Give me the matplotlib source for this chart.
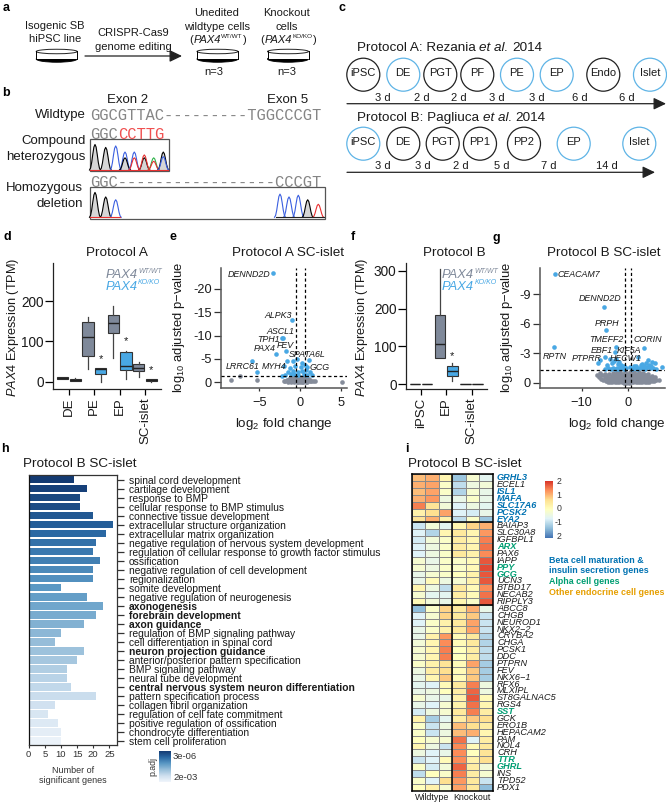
import numpy as np
import matplotlib
matplotlib.use("Agg")
import matplotlib.pyplot as plt
from matplotlib.patches import Circle, Ellipse, Rectangle, Polygon
from matplotlib.colors import LinearSegmentedColormap, Normalize
from matplotlib.cm import ScalarMappable
from matplotlib.transforms import ScaledTranslation

plt.rcParams['font.family'] = ['Liberation Sans', 'DejaVu Sans']
plt.rcParams['mathtext.fontset'] = 'custom'
plt.rcParams['mathtext.rm'] = 'Liberation Sans'
plt.rcParams['mathtext.it'] = 'Liberation Sans:italic'
plt.rcParams['mathtext.bf'] = 'Liberation Sans:bold'
plt.rcParams['axes.unicode_minus'] = False

W, H = 667, 805
INK = '#1a1a1a'
WT_C = '#7f899a'
KO_C = '#49a8e4'
CIRC_BLUE = '#5fb4e6'
GRAY_PT = '#858c9a'

# ---------- panel d / f box data (TPM) ----------
d_cats = ['DE', 'PE', 'EP', 'SC-islet']
d_wt_lo = [6, 32, 58, 12]
d_wt_q1 = [7, 65, 122, 27]
d_wt_med = [9, 110, 146, 33]
d_wt_q3 = [11, 148, 166, 44]
d_wt_hi = [12, 162, 189, 48]
d_ko_lo = [2, 0, 7, 0.5]
d_ko_q1 = [3, 19, 28, 1]
d_ko_med = [5, 32, 38, 4]
d_ko_q3 = [8, 35, 74, 7]
d_ko_hi = [10, 35, 76, 8]
d_star_y = [56, 100, 29]

f_cats = ['iPSC', 'EP', 'SC-islet']
f_wt_lo = [0, 68, 0]
f_wt_q1 = [0, 68, 0]
f_wt_med = [0, 106, 0]
f_wt_q3 = [0, 183, 0]
f_wt_hi = [0, 304, 0]
f_ko_lo = [0, 7, 0]
f_ko_q1 = [0, 21, 0]
f_ko_med = [0, 35, 0]
f_ko_q3 = [0, 47, 0]
f_ko_hi = [0, 57, 0]
f_star_y = [74]

# ---------- volcano e ----------
e_blue_x = [-3.3, -1.0, -2.25, -2.05, -1.7, -2.95, -5.9, -5.3, -1.6, -0.9, -0.4, 0.2, 1.15, 0.6, -1.2, -2.0,
            -0.6, 0.1, 0.9, -1.5, -0.9, -0.3, 0.3, 0.8, 1.2, -2.2, -1.8, -1.1, -0.7, 0.5, 0.9, 1.5, -0.2]
e_blue_y = [23.4, 13.4, 9.4, 9.4, 6.7, 6.0, 4.6, 2.3, 4.6, 4.6, 5.0, 4.1, 4.8, 3.7, 3.0, 3.4,
            3.5, 3.2, 3.3, 2.2, 2.4, 2.1, 2.4, 2.6, 2.1, 1.4, 1.5, 1.7, 1.8, 1.7, 1.6, 1.5, 1.5]
e_gray_x = [-8.5, -7.4, -5.3, 5.2, -2.0, -1.8, -1.6, -1.5, -1.3, -1.2, -1.1, -1.0, -0.9, -0.8, -0.7, -0.6, -0.5,
            -0.4, -0.3, -0.2, -0.1, 0.0, 0.1, 0.2, 0.3, 0.4, 0.5, 0.6, 0.7, 0.8, 0.9, 1.0, 1.2, 1.4, 1.6, 1.9,
            -1.4, -1.0, -0.7, -0.4, -0.1, 0.2, 0.5, 0.8, 1.1, -1.1, -0.8, -0.5, -0.2, 0.1, 0.4, 0.7, -0.6, -0.3, 0.0, 0.3]
e_gray_y = [0.5, 1.3, 0.4, 0.1, 0.3, 0.2, 0.4, 0.1, 0.3, 0.6, 0.1, 0.4, 0.2, 0.7, 0.1, 0.3, 0.5,
            0.1, 0.3, 0.1, 0.4, 0.1, 0.3, 0.1, 0.4, 0.1, 0.2, 0.5, 0.1, 0.3, 0.1, 0.4, 0.2, 0.3, 0.2, 0.3,
            0.8, 0.9, 1.0, 0.8, 1.1, 0.8, 0.9, 0.8, 0.7, 1.2, 0.6, 1.2, 0.7, 1.0, 1.1, 1.1, 1.2, 0.6, 1.2, 0.7]

# ---------- volcano g ----------
g_blue_x = [-15.8, -5.1, -4.6, -16.0, -2.5, 3.6, -2.75, 2.3, -4.9, -6.0, -6.5, 4.5, 5.2, 5.9, 7.4,
            -5.0, -4.2, -3.6, -3.2, -2.8, -2.4, -2.0, -1.6, -1.2, -0.8, -0.4, 1.0, 1.5, 2.0, 2.5, 3.0, 3.4, 3.8, 4.2, 4.8, 5.4, 6.2,
            -3.4, -3.0, -2.6, -2.2, -1.8, -1.4, 1.8, 2.8, 3.2, 3.6, 4.0, 4.6, 5.0, -3.8, -4.4, -0.9, 0.6, 1.3]
g_blue_y = [11.1, 7.7, 5.4, 3.66, 3.6, 3.56, 3.1, 2.65, 2.65, 2.3, 2.0, 2.3, 2.1, 2.0, 1.55,
            1.4, 1.45, 1.4, 1.5, 1.4, 1.5, 1.4, 1.6, 1.45, 1.4, 1.5, 1.4, 1.45, 1.4, 1.5, 1.45, 1.5, 1.4, 1.55, 1.45, 1.5, 1.4,
            2.0, 2.2, 2.4, 1.9, 2.1, 1.8, 1.7, 1.8, 1.9, 1.7, 2.0, 1.8, 1.7, 2.4, 1.8, 1.7, 1.6, 1.7]
g_gray_x = [-6.7, -6.3, -5.8, -5.3, -4.8, -4.3, -3.8, -3.3, -2.8, -2.3, -1.8, -1.3, -0.8, -0.3, 0.2, 0.7, 1.2, 1.7, 2.2, 2.7, 3.2, 3.7, 4.2, 4.7, 5.2, 5.7, 6.2, 6.7,
            -6.0, -5.5, -5.0, -4.5, -4.0, -3.5, -3.0, -2.5, -2.0, -1.5, -1.0, -0.5, 0.0, 0.5, 1.0, 1.5, 2.0, 2.5, 3.0, 3.5, 4.0, 4.5, 5.0, 5.5, 6.0,
            -5.0, -4.4, -3.8, -3.2, -2.6, -2.0, -1.4, -0.8, -0.2, 0.4, 1.0, 1.6, 2.2, 2.8, 3.4, 4.0, 4.6, 5.2,
            -4.0, -3.5, -3.0, -2.5, -2.0, -1.5, -1.0, -0.5, 0.0, 0.5, 1.0, 1.5, 2.0, 2.5, 3.0, 3.5, 4.0, 4.5,
            -3.2, -2.6, -2.0, -1.4, -0.8, -0.2, 0.4, 1.0, 1.6, 2.2, 2.8, 3.4, -2.4, -1.6, -0.6, 0.6, 1.4, 2.4]
g_gray_y = [0.75, 0.55, 0.35, 0.25, 0.15, 0.1, 0.05, 0.05, 0.05, 0.05, 0.05, 0.05, 0.0, 0.0, 0.0, 0.05, 0.05, 0.05, 0.05, 0.05, 0.05, 0.1, 0.1, 0.1, 0.15, 0.2, 0.25, 0.3,
            1.0, 0.8, 0.6, 0.45, 0.3, 0.25, 0.25, 0.25, 0.25, 0.25, 0.25, 0.25, 0.25, 0.25, 0.25, 0.25, 0.25, 0.25, 0.25, 0.3, 0.3, 0.35, 0.4, 0.5, 0.6,
            0.85, 0.65, 0.5, 0.45, 0.45, 0.45, 0.45, 0.45, 0.45, 0.45, 0.45, 0.45, 0.45, 0.45, 0.5, 0.55, 0.6, 0.7,
            0.85, 0.7, 0.65, 0.65, 0.65, 0.65, 0.65, 0.65, 0.65, 0.65, 0.65, 0.65, 0.65, 0.65, 0.7, 0.75, 0.8, 0.9,
            1.0, 0.9, 0.85, 0.85, 0.85, 0.85, 0.85, 0.85, 0.85, 0.85, 0.9, 0.95, 1.1, 1.05, 1.1, 1.05, 1.1, 1.1]

# ---------- panel h ----------
go_terms = ['spinal cord development', 'cartilage development', 'response to BMP',
            'cellular response to BMP stimulus', 'connective tissue development',
            'extracellular structure organization', 'extracellular matrix organization',
            'negative regulation of nervous system development',
            'regulation of cellular response to growth factor stimulus', 'ossification',
            'negative regulation of cell development', 'regionalization', 'somite development',
            'negative regulation of neurogenesis', 'axonogenesis', 'forebrain development',
            'axon guidance', 'regulation of BMP signaling pathway', 'cell differentiation in spinal cord',
            'neuron projection guidance', 'anterior/posterior pattern specification',
            'BMP signaling pathway', 'neural tube development',
            'central nervous system neuron differentiation', 'pattern specification process',
            'collagen fibril organization', 'regulation of cell fate commitment',
            'positive regulation of ossification', 'chondrocyte differentiation', 'stem cell proliferation']
go_counts = [14, 18, 16, 16, 20, 26, 24, 21, 20, 22, 20, 20, 10, 18, 23, 21, 17, 10, 8, 17, 15, 12, 12, 13, 21, 8, 6, 9, 10, 10]
go_shade = [1.00, 0.97, 0.94, 0.92, 0.87, 0.84, 0.80, 0.76, 0.73, 0.70, 0.66, 0.63, 0.60, 0.57, 0.53, 0.50, 0.47,
            0.44, 0.41, 0.38, 0.35, 0.31, 0.28, 0.25, 0.22, 0.19, 0.15, 0.12, 0.08, 0.04]
go_bold = ['axonogenesis', 'forebrain development', 'axon guidance', 'neuron projection guidance',
           'central nervous system neuron differentiation']

# ---------- panel i ----------
genes = ['GRHL3', 'ECEL1', 'ISL1', 'MAFA', 'SLC17A6', 'PCSK2', 'EYA2', 'BAIAP3', 'SLC30A8', 'IGFBPL1', 'ARX', 'PAX6',
         'IAPP', 'PPY', 'GCG', 'UCN3', 'BTBD17', 'NECAB2', 'RIPPLY3', 'ABCC8', 'CHGB', 'NEUROD1', 'NKX2\u22122', 'CRYBA2',
         'CHGA', 'PCSK1', 'DDC', 'PTPRN', 'FEV', 'NKX6\u22121', 'RFX6', 'MLXIPL', 'ST8GALNAC5', 'RGS4', 'SST', 'GCK',
         'ERO1B', 'HEPACAM2', 'PAM', 'NOL4', 'CRH', 'TTR', 'GHRL', 'INS', 'TPD52', 'PDX1']
beta_genes = ['GRHL3', 'ISL1', 'MAFA', 'SLC17A6', 'PCSK2', 'EYA2']
alpha_genes = ['ARX', 'PPY', 'GCG', 'SST', 'TTR', 'GHRL']
heat = [[1.0, 1.1, 0.2, -1.3, -0.2, -0.6], [1.1, 1.2, -0.1, -1.0, -0.4, -0.3], [1.0, 1.2, -0.1, -1.1, -0.2, -0.5],
        [1.1, 1.3, -0.4, -0.5, -0.1, -0.5], [1.5, 0.6, -0.3, -0.7, -0.4, -0.6], [0.3, 0.7, 1.2, -0.7, -0.8, -0.5],
        [0.6, 1.1, 0.3, -1.0, -0.1, -1.3], [-0.9, -0.3, -0.6, 0.2, 0.8, 1.1], [-0.7, -1.1, 0.2, 0.5, 0.2, 1.3],
        [-0.8, -0.3, -0.1, 0.4, 0.2, 1.5], [-0.7, -0.4, -0.1, 0.4, 0.2, 1.6], [-0.7, -0.4, -0.1, 0.5, 0.3, 1.4],
        [-0.2, -0.5, -0.1, -0.1, 0.1, 1.8], [-0.2, -0.4, -0.1, -0.1, 0.1, 1.9], [-0.5, -0.2, -0.1, 0.0, 0.3, 1.8],
        [-0.5, 0.1, -0.4, -0.2, 0.3, 1.8], [0.2, -0.4, -1.0, 0.5, 0.1, 1.4], [-0.2, -0.6, -0.6, 0.4, 0.1, 1.6],
        [0.1, -0.3, -0.5, 0.2, -0.1, 1.8], [-1.4, -0.1, 0.8, 0.5, 1.1, -0.5], [-0.7, -0.2, 0.8, 0.5, 0.9, -0.9],
        [-0.7, -0.1, 0.3, 0.5, 1.2, -0.9], [-0.5, -0.1, 0.3, 0.5, 1.2, -0.9], [-0.5, 0.3, 1.3, 0.1, 0.5, -1.1],
        [-0.3, 0.2, 1.4, 0.1, 0.5, -1.1], [-0.2, 0.2, 1.5, 0.0, 0.4, -1.0], [-0.2, 0.2, 1.5, 0.0, 0.4, -1.0],
        [-0.1, 0.3, 0.6, 0.1, 1.2, -1.2], [-0.4, 0.4, 0.7, 0.1, 0.9, -1.2], [-0.5, 0.2, 0.9, 0.1, 0.9, -1.2],
        [-0.6, -0.7, 0.1, 0.5, 1.5, -0.4], [-0.5, -0.4, 0.0, 0.4, 1.7, -0.4], [-0.2, -0.5, -0.5, 0.3, 1.8, 0.1],
        [-0.5, -0.7, -0.2, 0.3, 1.6, 0.2], [-0.8, -0.4, -0.2, 0.5, 1.5, 0.4], [0.3, -1.2, -0.6, 0.4, 0.9, 0.7],
        [-0.1, -0.9, -0.4, 1.0, 0.7, 0.4], [-0.1, -0.9, -0.4, 1.0, 1.1, 0.2], [0.0, -0.2, -0.2, 1.6, -0.7, 0.4],
        [0.2, -0.4, -0.9, 1.4, 0.1, 0.5], [-0.4, -0.7, -0.5, 1.4, 0.0, 0.6], [-0.9, -0.7, 0.1, 1.4, 0.3, 0.7],
        [-0.1, -0.8, -0.3, 1.7, 0.4, -0.3], [-1.0, 0.0, -0.1, 1.5, 0.4, -0.2], [-0.1, -0.7, 0.7, 1.3, 0.5, -0.9],
        [0.0, 0.3, -0.2, 1.2, 0.5, -1.4]]

# ---------- schematic content ----------
proto_a_steps = ['iPSC', 'DE', 'PGT', 'PF', 'PE', 'EP', 'Endo', 'Islet']
proto_a_blue = ['DE', 'PE', 'EP', 'Islet']
proto_a_days = ['3 d', '2 d', '2 d', '3 d', '3 d', '6 d', '6 d']
proto_b_steps = ['iPSC', 'DE', 'PGT', 'PP1', 'PP2', 'EP', 'Islet']
proto_b_blue = ['iPSC', 'EP', 'Islet']
proto_b_days = ['3 d', '3 d', '2 d', '5 d', '7 d', '14 d']

# chromatogram peaks: (column in px, height fraction, colour)
compound_peaks = [(95, .88, 'k'), (105.7, .78, 'k'), (115.7, .83, '#3a5fe0'), (125, .62, '#3a5fe0'), (125, .42, 'k'),
                  (134.3, .62, '#3a5fe0'), (134.3, .42, '#e83030'), (144.3, .42, 'k'), (144.3, .52, '#e83030'),
                  (153.7, .42, '#2fb24a'), (153.7, .3, '#e83030'), (163.3, .62, 'k'), (163.3, .46, '#3a5fe0')]
homoz_peaks = [(95, .88, 'k'), (105.7, .72, 'k'), (115.7, .62, '#3a5fe0'), (280, .82, '#3a5fe0'), (289, .72, '#3a5fe0'),
               (298.3, .78, '#3a5fe0'), (307.7, .62, 'k'), (318.3, .46, '#e83030')]
PEAK_PROFILE = [0, .08, .3, .62, .9, 1, .9, .62, .3, .08, 0]

fig = plt.figure(figsize=(W / 100, H / 100), dpi=100, facecolor='white')


def mk_ax(l, t, r, b):
    return fig.add_axes([l / W, 1 - b / H, (r - l) / W, (b - t) / H])


ov = fig.add_axes([0, 0, 1, 1], zorder=10)
ov.set_xlim(0, W)
ov.set_ylim(H, 0)
ov.axis('off')
ov.patch.set_alpha(0)
renderer = fig.canvas.get_renderer()


def T(x, y, s, size=8, ha='center', va='center', color=INK, **kw):
    return ov.text(x, y, s, fontsize=size, ha=ha, va=va, color=color, **kw)


def width_px(t):
    return t.get_window_extent(renderer).width


def pax_label(x, y, sup, size=8, supsize=4.6, color=INK, pre='', post=''):
    cx = x
    if pre:
        t = T(cx, y, pre, size=size, ha='left', color=color)
        cx += width_px(t) + 0.5
    t = T(cx, y, 'PAX4', size=size, ha='left', color=color, style='italic')
    cx += width_px(t) + 0.3
    t = T(cx, y - size * 0.42, sup, size=supsize, ha='left', color=color, style='italic' if not post else 'normal')
    cx += width_px(t) + 0.3
    if post:
        T(cx, y, post, size=size, ha='left', color=color)


# panel letters
for (lx, ly, ch) in [(6, 8, 'a'), (6, 93, 'b'), (342, 8, 'c'), (7, 237, 'd'), (173, 237, 'e'), (353, 237, 'f'),
                     (496, 238, 'g'), (5, 449, 'h'), (407, 449, 'i')]:
    T(lx, ly, ch, size=9, weight='bold', color='black')


def dish(cx, y=51.5):
    w = 41
    ov.add_patch(Ellipse((cx, y + 7.5), w, 6.5, fc='black', ec='black', lw=0.6))
    ov.add_patch(Rectangle((cx - w / 2, y), w, 7.5, fc='white', ec='none'))
    ov.plot([cx - w / 2, cx - w / 2], [y, y + 7.5], color='black', lw=0.7)
    ov.plot([cx + w / 2, cx + w / 2], [y, y + 7.5], color='black', lw=0.7)
    ov.add_patch(Ellipse((cx, y), w, 4.5, fc='white', ec='#222222', lw=0.7))


ARROW = dict(arrowstyle='-|>,head_width=0.36,head_length=0.75', color='#222222', lw=0.9, shrinkA=0, shrinkB=0)

# ---- a ----
T(55, 26, 'Isogenic SB')
T(55, 39.3, 'hiPSC line')
dish(56.7)
T(133, 33.3, 'CRISPR-Cas9')
T(133, 47.3, 'genome editing')
ov.annotate('', xy=(182, 56), xytext=(85, 56), arrowprops=ARROW)
T(217, 12.7, 'Unedited')
T(217, 26.7, 'wildtype cells')
pax_label(189, 40, 'WT/WT', pre='(', post=')', size=8)
dish(217.5)
T(214, 72.3, 'n=3')
T(286.7, 12.7, 'Knockout')
T(286.7, 26.7, 'cells')
pax_label(260.5, 40, 'KO/KO', pre='(', post=')', size=8)
dish(288)
T(287, 71.7, 'n=3')

# ---- b ----
T(128, 100, 'Exon 2', size=9.5)
T(287.7, 100, 'Exon 5', size=9.5)
T(85.7, 115, 'Wildtype', size=9.5, ha='right')
T(85.7, 140.7, 'Compound', size=9.5, ha='right')
T(85.7, 156.7, 'heterozygous', size=9.5, ha='right')
T(83.3, 188.3, 'Homozygous', size=9.5, ha='right')
T(83.3, 204, 'deletion', size=9.5, ha='right')
SEQ = dict(family='Liberation Mono', size=11.2, ha='left')
SEQ_C = '#858585'
T(90, 115.5, 'GGCGTTAC---------TGGCCCGT', color=SEQ_C, **SEQ)
T(90, 134.5, 'GGC', color=SEQ_C, **SEQ)
T(118.2, 134.5, 'CCTTG', color='#f05050', **SEQ)
T(90, 182.5, 'GGC-----------------CCCGT', color=SEQ_C, **SEQ)
ov.add_patch(Rectangle((89.5, 139.5), 79.5, 32, fc='white', ec='#555555', lw=0.9))
ov.add_patch(Rectangle((89.5, 187), 235.5, 32.3, fc='white', ec='#555555', lw=0.9))


def chrom(peaks, base, top, halfw=5.5):
    n = len(PEAK_PROFILE)
    for (px, hh, c) in peaks:
        xs = [px - halfw + 2 * halfw * i / (n - 1) for i in range(n)]
        ys = [base - hh * (base - top) * p for p in PEAK_PROFILE]
        if c == 'k':
            ov.add_patch(Polygon(list(zip(xs, ys)), closed=True, fc='#d6d6d6', ec='none', zorder=2))
        ov.plot(xs, ys, color=c, lw=0.8, zorder=3)


chrom(compound_peaks, 170, 141)
ov.plot([90, 168], [170, 170], color='#e83030', lw=0.8, zorder=3)
chrom(homoz_peaks, 217.3, 189)
ov.plot([90, 120], [217.3, 217.3], color='#e83030', lw=0.8, zorder=3)
ov.plot([276, 324], [217.3, 217.3], color='#222222', lw=0.8, zorder=3)

# ---- c ----
T(357.3, 48.3, 'Protocol A: Rezania', size=9.7, ha='left')
T(479.3, 48.3, 'et al.', size=9.7, ha='left', style='italic')
T(512, 48.3, '2014', size=9.7, ha='left')
T(357.3, 118.3, 'Protocol B: Pagliuca', size=9.7, ha='left')
T(482.7, 118.3, 'et al.', size=9.7, ha='left', style='italic')
T(515, 118.3, '2014', size=9.7, ha='left')

a_cx = [363.3, 403.3, 440.3, 477.3, 517, 556.7, 603.3, 650]
a_day_x = [383.3, 421.7, 459, 497, 536.7, 580, 626.7]
b_cx = [363.3, 403.3, 442.7, 480, 524, 573.7, 639.3]
b_day_x = [383.3, 422.7, 461.3, 502, 549, 606.7]
for names, blues, xs, y in [(proto_a_steps, proto_a_blue, a_cx, 74.7), (proto_b_steps, proto_b_blue, b_cx, 143.7)]:
    for n, cx in zip(names, xs):
        ov.add_patch(Circle((cx, y), 16.5, fc='white', ec=CIRC_BLUE if n in blues else '#222222', lw=0.9))
        T(cx, y - 1.5, n, size=8)
for d, x in zip(proto_a_days, a_day_x):
    T(x, 97.7, d, size=8)
for d, x in zip(proto_b_days, b_day_x):
    T(x, 166, d, size=8)
for x1, y in [(666, 103.7), (655, 172.3)]:
    ov.annotate('', xy=(x1, y), xytext=(347, y), arrowprops=ARROW)


# ---- box plots ----
def boxes(ax, lo, q1, med, q3, hi, offset, color, width):
    stats = [dict(whislo=a, q1=b, med=c, q3=d, whishi=e, fliers=[]) for a, b, c, d, e in zip(lo, q1, med, q3, hi)]
    pos = [i + offset for i in range(len(lo))]
    ax.bxp(stats, positions=pos, widths=width, patch_artist=True, showcaps=False, showfliers=False,
           boxprops=dict(facecolor=color, edgecolor='#333333', lw=0.8),
           medianprops=dict(color='#222222', lw=1.0),
           whiskerprops=dict(color='#444444', lw=0.9), manage_ticks=False)


def box_axes(ax):
    for s in ('top', 'right'):
        ax.spines[s].set_visible(False)
    for s in ('left', 'bottom'):
        ax.spines[s].set_linewidth(0.9)
        ax.spines[s].set_color('#222222')
    ax.tick_params(axis='y', length=5.5, width=0.9, labelsize=9.8, pad=1.5, labelcolor=INK)
    ax.tick_params(axis='x', length=4.5, width=0.9, labelsize=9.5, pad=1.5, labelcolor=INK)


axd = mk_ax(53.3, 263, 160.7, 389)
boxes(axd, d_wt_lo, d_wt_q1, d_wt_med, d_wt_q3, d_wt_hi, -0.25, WT_C, 0.45)
boxes(axd, d_ko_lo, d_ko_q1, d_ko_med, d_ko_q3, d_ko_hi, 0.25, KO_C, 0.45)
axd.set_xlim(-0.62, 3.62)
axd.set_ylim(-18, 295)
axd.set_yticks([0, 100, 200])
axd.set_xticks(range(4))
axd.set_xticklabels(d_cats, rotation=90)
box_axes(axd)
for i, y in zip([1, 2, 3], d_star_y):
    axd.text(i + 0.25, y, '*', ha='center', va='center', fontsize=8, color=INK)
T(13, 327.5, r'$\mathit{PAX4}$ Expression (TPM)', size=9.2, rotation=90)
T(116.7, 252.7, 'Protocol A', size=9.7)
pax_label(105.7, 275, 'WT/WT', size=9.3, supsize=5, color=WT_C)
pax_label(105.7, 286.5, 'KO/KO', size=9.3, supsize=5, color=KO_C)

axf = mk_ax(406.3, 263, 486.7, 389.3)
boxes(axf, f_wt_lo, f_wt_q1, f_wt_med, f_wt_q3, f_wt_hi, -0.24, WT_C, 0.42)
boxes(axf, f_ko_lo, f_ko_q1, f_ko_med, f_ko_q3, f_ko_hi, 0.24, KO_C, 0.42)
axf.set_xlim(-0.58, 2.6)
axf.set_ylim(-14, 321)
axf.set_yticks([0, 100, 200, 300])
axf.set_xticks(range(3))
axf.set_xticklabels(f_cats, rotation=90)
box_axes(axf)
axf.text(1.24, f_star_y[0], '*', ha='center', va='center', fontsize=8, color=INK)
T(362, 327.5, r'$\mathit{PAX4}$ Expression (TPM)', size=9.2, rotation=90)
T(454, 252.7, 'Protocol B', size=9.7)
pax_label(442, 275, 'WT/WT', size=9.3, supsize=5, color=WT_C)
pax_label(442, 286.5, 'KO/KO', size=9.3, supsize=5, color=KO_C)


# ---- volcanoes ----
def volcano(ax, bx, by, gx, gy, v1, v2, hl, xt, yt):
    ax.scatter(gx, gy, s=11, color=GRAY_PT, lw=0, zorder=2)
    ax.scatter(bx, by, s=11, color=KO_C, lw=0, zorder=3)
    ax.axvline(v1, color='black', lw=0.9, ls=(0, (2.5, 2)), zorder=4)
    ax.axvline(v2, color='black', lw=0.9, ls=(0, (2.5, 2)), zorder=4)
    ax.axhline(hl, color='black', lw=0.9, ls=(0, (2.5, 2)), zorder=4)
    for s in ('top', 'right'):
        ax.spines[s].set_visible(False)
    for s in ('left', 'bottom'):
        ax.spines[s].set_linewidth(1.1)
        ax.spines[s].set_color('#555555')
    ax.set_xticks(xt)
    ax.set_xticklabels([('\u2212%d' % -v if v < 0 else '%d' % v) for v in xt])
    ax.set_yticks(yt)
    ax.set_yticklabels([('-%d' % v if v > 0 else '0') for v in yt])
    ax.tick_params(axis='y', length=5, width=0.9, labelsize=9.2, pad=1.5, labelcolor=INK, color='#333333')
    ax.tick_params(axis='x', length=2.5, width=0.9, labelsize=9.2, pad=3.5, labelcolor=INK, color='#333333')


axe = mk_ax(220.7, 268, 346.7, 388.3)
volcano(axe, e_blue_x, e_blue_y, e_gray_x, e_gray_y, -0.53, 0.6, 1.25, [-5, 0, 5], [0, 5, 10, 15, 20])
axe.set_xlim(-9.75, 5.75)
axe.set_ylim(-1.3, 24.5)
T(179, 327.5, r'log$_{10}$ adjusted p$\mathrm{-}$value', size=9.4, rotation=90)
T(284, 424.3, r'log$_{2}$ fold change', size=9.6)
T(288, 252.7, 'Protocol A SC-islet', size=9.7)
e_labels = [('DENND2D', 249, 274.7), ('ALPK3', 278.3, 315.3), ('ASCL1', 280.7, 331), ('TPH1', 268.7, 339.3),
            ('FEV', 285.3, 345), ('PAX4', 264.3, 348.3), ('SPATA6L', 307.3, 354.3), ('LRRC61', 242.3, 366.3),
            ('MYH4', 274.3, 366.3), ('GCG', 319.3, 367.3)]
for s, x, y in e_labels:
    T(x, y, s, size=6.4, style='italic')

axg = mk_ax(539.7, 268, 665, 388.3)
volcano(axg, g_blue_x, g_blue_y, g_gray_x, g_gray_y, -0.6, 0.7, 1.3, [-10, 0], [0, 3, 6, 9])
axg.set_xlim(-19.1, 8.1)
axg.set_ylim(-0.57, 11.66)
T(507, 327.5, r'log$_{10}$ adjusted p$\mathrm{-}$value', size=9.4, rotation=90)
T(617, 424.3, r'log$_{2}$ fold change', size=9.6)
T(603.3, 252.7, 'Protocol B SC-islet', size=9.7)
g_labels = [('CEACAM7', 579, 274), ('DENND2D', 600, 298.7), ('PRPH', 607, 323.3), ('TMEFF2', 606.7, 339.3),
            ('CORIN', 647.7, 339), ('EBF1', 602, 350.3), ('KIF5A', 629, 350), ('RPTN', 554.3, 356.3),
            ('PTPRR', 587, 358.3), ('HECW1', 625.7, 358.3)]
for s, x, y in g_labels:
    T(x, y, s, size=6.4, style='italic')

# ---- h ----
blue_cm = LinearSegmentedColormap.from_list('gobl', ['#f2f6fb', '#cfe0ef', '#98bfda', '#5a98c4', '#2a68a3', '#133a72'])
axh = mk_ax(28.7, 475, 117, 745.3)
axh.barh(range(len(go_counts)), go_counts, height=0.86, color=blue_cm(go_shade))
axh.set_ylim(29.5, -0.5)
axh.set_xlim(0, 27.35)
axh.set_xticks([0, 5, 10, 15, 20, 25])
axh.yaxis.tick_right()
axh.set_yticks(range(len(go_terms)))
axh.set_yticklabels(go_terms, fontsize=7.4, color=INK)
for lab in axh.get_yticklabels():
    lab.set_transform(lab.get_transform() + ScaledTranslation(0, 1.3 / 100, fig.dpi_scale_trans))
    if lab.get_text() in go_bold:
        lab.set_fontweight('bold')
axh.tick_params(axis='y', length=5, width=0.9, pad=3.5, color='#333333')
axh.tick_params(axis='x', length=2, width=0.8, labelsize=6.8, pad=1.5, color='#333333', labelcolor='#333333')
for s in axh.spines.values():
    s.set_linewidth(0.9)
    s.set_color('#333333')
axh.spines['left'].set_color('#111111')
T(79.5, 464.3, 'Protocol B SC-islet', size=9.7)
T(72.7, 770, 'Number of', size=6.5, color='#333333')
T(72.7, 780, 'significant genes', size=6.5, color='#333333')
cax = mk_ax(158.7, 751, 170.7, 782.3)
fig.colorbar(ScalarMappable(Normalize(0, 1), blue_cm), cax=cax)
cax.set_yticks([])
for s in cax.spines.values():
    s.set_visible(False)
T(152.7, 766.7, 'p.adj', size=6.3, rotation=90, color='#333333')
T(173, 756, '3e-06', size=6.8, ha='left', color='#333333')
T(173, 777.7, '2e-03', size=6.8, ha='left', color='#333333')

# ---- i ----
heat_cm = LinearSegmentedColormap.from_list('ph', ['#4575B4', '#91BFDB', '#E0F3F8', '#FFFFBF', '#FEE090', '#FC8D59', '#D73027'])
axi = mk_ax(412, 474.3, 492.7, 790.7)
heat_arr = np.array(heat)
axi.pcolormesh(heat_arr, cmap=heat_cm, vmin=-2.1, vmax=2.1, edgecolors='#8a8a8a', linewidth=0.5)
axi.set_ylim(len(genes), 0)
axi.set_xlim(0, 6)
axi.set_xticks([])
axi.set_yticks([])
for s in axi.spines.values():
    s.set_linewidth(1.1)
    s.set_color('black')
axi.axvline(3, color='black', lw=1.1)
axi.axhline(7, color='black', lw=1.1)
axi.axhline(19, color='black', lw=1.1)
row_h = (790.7 - 474.3) / len(genes)
for i, g in enumerate(genes):
    yy = 474.3 + row_h * (i + 0.5)
    if g in beta_genes:
        T(497, yy, g, size=6.6, ha='left', style='italic', weight='bold', color='#0072b2')
    elif g in alpha_genes:
        T(497, yy, g, size=6.6, ha='left', style='italic', weight='bold', color='#009e73')
    else:
        T(497, yy, g, size=6.6, ha='left', style='italic', color=INK)
T(464.5, 464, 'Protocol B SC-islet', size=9.7)
T(432, 797.7, 'Wildtype', size=6.4)
T(472.3, 797.7, 'Knockout', size=6.4)
cax2 = mk_ax(545.3, 480.7, 553.3, 537.7)
fig.colorbar(ScalarMappable(Normalize(-2.1, 2.1), heat_cm), cax=cax2)
cax2.set_yticks([])
for s in cax2.spines.values():
    s.set_visible(False)
for lab, y in [('2', 481.3), ('1', 495), ('0', 508.7), ('-1', 522.3), ('2', 536.7)]:
    T(559, y, lab, size=6.3, color='#333333')
T(549.3, 560, 'Beta cell maturation &', size=6.4, ha='left', weight='bold', color='#0072b2')
T(549.3, 570.7, 'insulin secretion genes', size=6.4, ha='left', weight='bold', color='#0072b2')
T(549.3, 581.7, 'Alpha cell genes', size=6.4, ha='left', weight='bold', color='#009e73')
T(549.3, 592, 'Other endocrine cell genes', size=6.4, ha='left', weight='bold', color='#e69f00')

fig.savefig('out.png', dpi=100, facecolor='white')
